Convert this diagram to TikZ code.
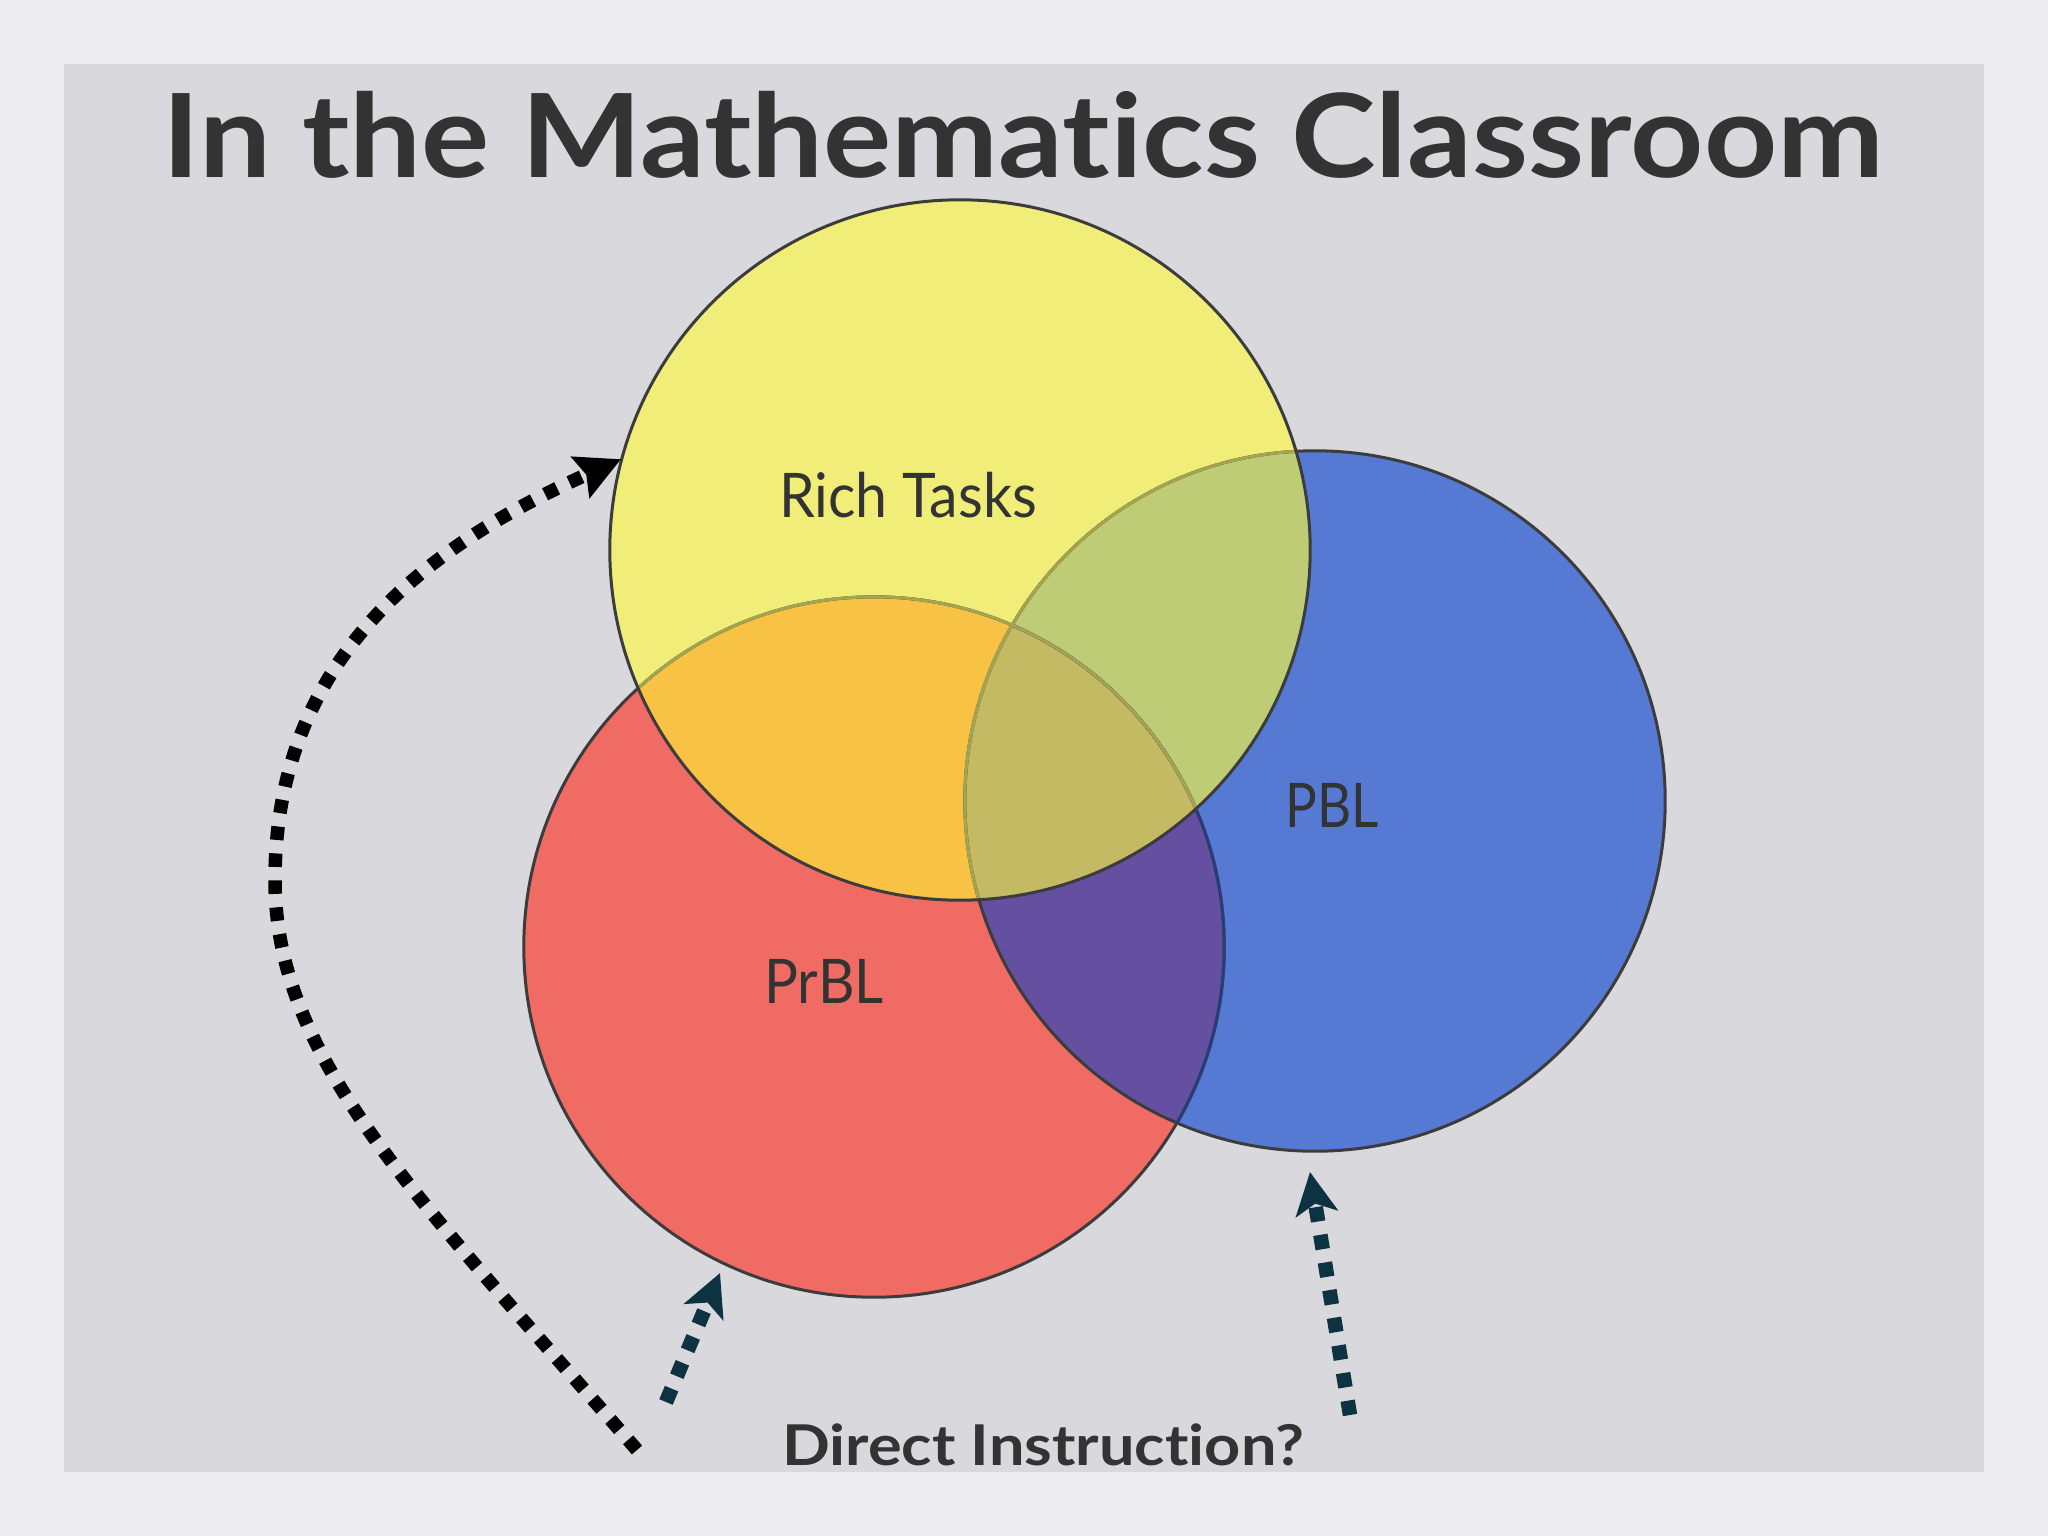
\documentclass[tikz,border=0pt]{standalone}
\usepackage{fontspec}
\setmainfont{Lato}[Ligatures=NoCommon]
\usetikzlibrary{arrows.meta}
\definecolor{outerbg}{RGB}{237,237,241}
\definecolor{panelbg}{RGB}{216,216,221}
\definecolor{ink}{RGB}{51,51,51}
\definecolor{cyellow}{RGB}{240,238,120}
\definecolor{cred}{RGB}{239,107,100}
\definecolor{cblue}{RGB}{86,121,211}
\definecolor{cyr}{RGB}{248,194,68}
\definecolor{cyb}{RGB}{191,204,118}
\definecolor{cyrb}{RGB}{196,186,99}
\definecolor{crb}{RGB}{100,79,161}
\definecolor{edgecol}{RGB}{60,60,60}
\definecolor{edgeblue}{RGB}{40,60,120}
\definecolor{edgeolive}{RGB}{165,165,80}
\definecolor{darkteal}{RGB}{13,51,64}
\begin{document}
\begin{tikzpicture}[x=0.01cm,y=-0.01cm,
  setholder/.style={circle,minimum size=7cm,inner sep=0pt},
  setedge/.style={line width=0.03cm},
  setlabel/.style={text=ink,font=\fontsize{17.5}{20}\selectfont,anchor=base,inner sep=0pt},
  blackdots/.style={line width=0.135cm,black,line cap=butt,dash pattern=on 0.135cm off 0.135cm},
  tealdots/.style={line width=0.145cm,darkteal,line cap=butt,dash pattern=on 0.145cm off 0.135cm}
]
\useasboundingbox (0,0) rectangle (2048,1536);
\fill[outerbg] (0,0) rectangle (2048,1536);
\fill[panelbg] (64,64) rectangle (1984,1472);

% set holders
\node[setholder] (R) at (874,947) {};
\node[setholder] (B) at (1315,801) {};
\node[setholder] (Y) at (960,550) {};

% base fills
\fill[cred] (R.center) circle[radius=3.5cm];
\fill[cblue] (B.center) circle[radius=3.5cm];
\begin{scope}
  \clip (R.center) circle[radius=3.5cm];
  \fill[crb] (B.center) circle[radius=3.5cm];
\end{scope}
\fill[cyellow] (Y.center) circle[radius=3.5cm];
\begin{scope}
  \clip (Y.center) circle[radius=3.5cm];
  \fill[cyr] (R.center) circle[radius=3.5cm];
  \fill[cyb] (B.center) circle[radius=3.5cm];
  \begin{scope}
    \clip (R.center) circle[radius=3.5cm];
    \fill[cyrb] (B.center) circle[radius=3.5cm];
  \end{scope}
\end{scope}

% outlines
\draw[setedge,edgecol] (R.center) circle[radius=3.5cm];
\draw[setedge,edgecol] (B.center) circle[radius=3.5cm];
\begin{scope}
  \clip (B.center) circle[radius=3.5cm];
  \draw[setedge,edgeblue] (R.center) circle[radius=3.5cm];
\end{scope}
\begin{scope}
  \clip (Y.center) circle[radius=3.5cm];
  \draw[setedge,edgeolive] (R.center) circle[radius=3.5cm];
  \draw[setedge,edgeolive] (B.center) circle[radius=3.5cm];
\end{scope}
\draw[setedge,edgecol] (Y.center) circle[radius=3.5cm];

% texts
\node[text=ink,anchor=base,inner sep=0pt,font=\fontsize{33}{38}\selectfont\bfseries] (title) at (1023,177) {\scalebox{1.1}[1]{In the Mathematics Classroom}};
\node[setlabel] (lrich) at (908,517) {\scalebox{0.93}[1]{Rich Tasks}};
\node[setlabel] (lpbl) at (1332,827) {\scalebox{0.86}[1]{PBL}};
\node[setlabel] (lprbl) at (824,1003) {\scalebox{0.92}[1]{PrBL}};
\node[text=ink,anchor=base,inner sep=0pt,font=\fontsize{16}{19}\selectfont\bfseries] (direct) at (1043,1465) {\scalebox{1.12}[1]{Direct Instruction?}};

% arrows
\coordinate (a1s) at (637,1450);
\draw[blackdots,-{Stealth[length=0.44cm,width=0.44cm,inset=0.06cm]}]
  (a1s) .. controls (420,1200) and (275,1060) .. (275,880)
        .. controls (275,650) and (440,540) .. (Y.165.5);
\coordinate (a2s) at (666,1402);
\coordinate (a2e) at (720,1273);
\draw[tealdots,-{Stealth[length=0.42cm,width=0.42cm,inset=0.1cm]}] (a2s) -- (a2e);
\coordinate (a3s) at (1350,1415);
\coordinate (a3e) at (1310,1172);
\draw[tealdots,-{Stealth[length=0.42cm,width=0.42cm,inset=0.1cm]}] (a3s) -- (a3e);
\end{tikzpicture}
\end{document}
